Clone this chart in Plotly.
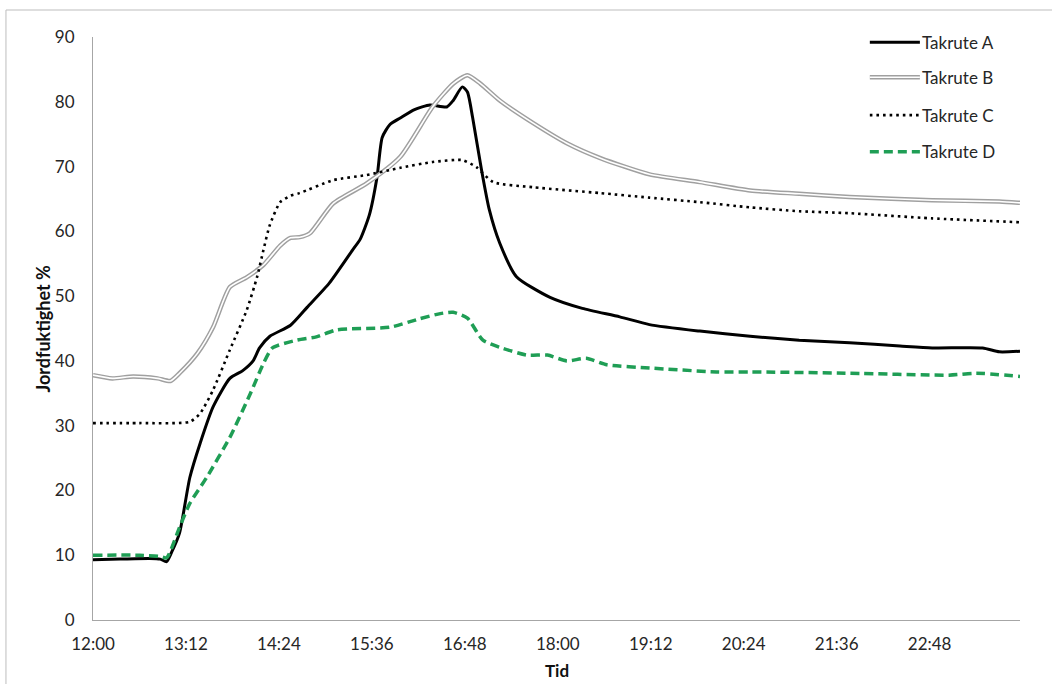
import plotly.graph_objects as go

# ---------------- data ----------------
time_a = ["12:00","12:21","12:44","12:52","12:57","13:01","13:07","13:15","13:23","13:33","13:46","13:56",
          "14:04","14:09","14:17","14:33","14:46","15:03","15:21","15:27","15:34","15:40","15:44","15:50",
          "15:58","16:09","16:21","16:34","16:39","16:46","16:50","16:54","17:01","17:07","17:15","17:28",
          "17:54","18:19","18:48","19:11","19:50","20:29","21:07","21:46","22:25","22:50","23:29","23:42","23:58"]
takrute_a = [9.3,9.4,9.5,9.4,9.0,10.5,13.4,22.0,27.3,32.9,37.3,38.5,
             40.0,42.0,43.8,45.5,48.3,52.0,57.1,58.8,62.5,68.4,74.5,76.5,
             77.5,78.8,79.5,79.2,80.2,82.3,81.5,77.6,69.4,63.3,58.2,53.0,
             49.8,48.1,46.8,45.6,44.6,43.8,43.2,42.8,42.3,42.0,42.0,41.4,41.5]

time_b = ["12:00","12:15","12:31","12:50","13:00","13:07","13:21","13:33","13:46","13:59","14:12","14:25",
          "14:33","14:40","14:48","15:06","15:32","15:58","16:23","16:39","16:50","17:00","17:15","17:41",
          "18:07","18:33","19:11","19:50","20:29","21:07","21:46","22:50","23:42","23:58"]
takrute_b = [37.8,37.3,37.6,37.3,36.9,38.1,41.2,45.2,51.4,52.9,54.8,57.8,
             59.0,59.1,59.7,64.3,67.4,71.5,79.2,82.8,84.1,82.8,80.2,76.7,
             73.6,71.3,68.8,67.6,66.3,65.8,65.3,64.8,64.6,64.4]

time_c = ["12:00","12:36","13:15","13:23","13:33","13:46","13:59","14:07","14:12","14:17","14:25","14:33",
          "14:40","15:06","15:32","15:58","16:23","16:46","16:57","17:10","17:41","18:33","19:11","19:50",
          "20:29","21:07","21:46","22:50","23:58"]
takrute_c = [30.4,30.4,30.6,31.9,35.5,41.7,47.8,52.9,57.1,61.0,64.5,65.5,
             65.9,67.9,68.7,69.8,70.7,71.0,69.9,67.6,66.8,65.9,65.2,64.5,
             63.7,63.1,62.8,62.0,61.4]

time_d = ["12:00","12:36","12:52","12:57","13:07","13:15","13:28","13:46","14:02","14:12","14:19","14:38",
          "14:53","15:09","15:50","16:13","16:29","16:39","16:50","17:02","17:15","17:36","17:52","18:07",
          "18:22","18:38","19:11","20:03","20:29","21:46","23:03","23:24","23:58"]
takrute_d = [10.0,10.0,9.8,9.6,14.3,18.0,22.0,28.2,35.0,39.6,42.0,43.2,
             43.7,44.8,45.2,46.5,47.3,47.5,46.6,43.2,42.1,40.9,40.9,40.0,
             40.4,39.4,38.9,38.3,38.3,38.1,37.8,38.1,37.6]

tick_labels = ["12:00","13:12","14:24","15:36","16:48","18:00","19:12","20:24","21:36","22:48"]
series_names = ["Takrute A","Takrute B","Takrute C","Takrute D"]

DAY = "2024-01-01 "
def to_dt(ts):
    return [DAY + t + ":00" for t in ts]

FONT = "Lato"
GREEN = "#1f9e55"
TXT = "#262626"

fig = go.Figure()
sp = dict(shape="spline", smoothing=0.6)

fig.add_trace(go.Scatter(x=to_dt(time_a), y=takrute_a, mode="lines", name=series_names[0],
                         line=dict(color="#000000", width=3, **sp), showlegend=False))
fig.add_trace(go.Scatter(x=to_dt(time_b), y=takrute_b, mode="lines", name=series_names[1],
                         line=dict(color="#a0a0a0", width=4.5, **sp), showlegend=False))
fig.add_trace(go.Scatter(x=to_dt(time_b), y=takrute_b, mode="lines", name=series_names[1],
                         line=dict(color="#ffffff", width=1.6, **sp), showlegend=False, hoverinfo="skip"))
fig.add_trace(go.Scatter(x=to_dt(time_c), y=takrute_c, mode="lines", name=series_names[2],
                         line=dict(color="#000000", width=2.6, dash="2.6px,4px", **sp), showlegend=False))
fig.add_trace(go.Scatter(x=to_dt(time_d), y=takrute_d, mode="lines", name=series_names[3],
                         line=dict(color=GREEN, width=3.5, dash="9px,5px", **sp), showlegend=False))

# manual legend (paper coordinates)
shapes = []
annotations = []
leg_rows = [0.991, 0.931, 0.866, 0.803]
lx0, lx1, tx = 0.838, 0.892, 0.892
styles = [
    [dict(color="#000000", width=3)],
    [dict(color="#a0a0a0", width=4.5), dict(color="#ffffff", width=1.6)],
    [dict(color="#000000", width=2.6, dash="2.6px,4px")],
    [dict(color=GREEN, width=3.5, dash="9px,5px")],
]
for name, yy, st in zip(series_names, leg_rows, styles):
    for s in st:
        shapes.append(dict(type="line", xref="paper", yref="paper", x0=lx0, x1=lx1, y0=yy, y1=yy, line=s))
    annotations.append(dict(xref="paper", yref="paper", x=tx, y=yy, text=name, showarrow=False,
                            xanchor="left", yanchor="middle", font=dict(family=FONT, size=17, color=TXT)))

# axis titles
annotations.append(dict(xref="paper", yref="paper", x=0.5, y=-0.086, text="<b>Tid</b>", showarrow=False,
                        xanchor="center", yanchor="middle", font=dict(family=FONT, size=17, color="#111111")))
annotations.append(dict(xref="paper", yref="paper", x=-0.055, y=0.5, text="<b>Jordfuktighet %</b>",
                        showarrow=False, textangle=-90, xanchor="center", yanchor="middle",
                        font=dict(family=FONT, size=18, color="#111111")))

# outer frame
shapes.append(dict(type="rect", xref="paper", yref="paper", x0=-0.0939, x1=1.2, y0=-0.3, y1=1.0463,
                   line=dict(color="#bdbdbd", width=1), fillcolor="rgba(0,0,0,0)", layer="below"))

fig.update_layout(
    width=1052, height=684,
    margin=dict(l=93, r=32, t=37, b=64),
    paper_bgcolor="white", plot_bgcolor="white",
    font=dict(family=FONT, size=17, color=TXT),
    shapes=shapes, annotations=annotations,
    showlegend=False,
)
fig.update_xaxes(
    type="date", automargin=False,
    range=[DAY + "12:00:00", DAY + "23:58:00"],
    tickvals=to_dt(tick_labels), ticktext=tick_labels,
    showgrid=False, zeroline=False,
    showline=True, linecolor="#a6a6a6", linewidth=1.3,
    ticks="", ticklabelstandoff=8,
    tickfont=dict(family=FONT, size=17, color=TXT),
)
fig.update_yaxes(
    range=[0, 90], tickvals=list(range(0, 91, 10)), automargin=False,
    showgrid=False, zeroline=False,
    showline=True, linecolor="#a6a6a6", linewidth=1,
    ticks="", ticklabelstandoff=14,
    tickfont=dict(family=FONT, size=17, color=TXT),
)

fig.write_html("out.html", config={"displayModeBar": False},
               post_script="document.body.style.margin='0';document.body.style.overflow='hidden';")
